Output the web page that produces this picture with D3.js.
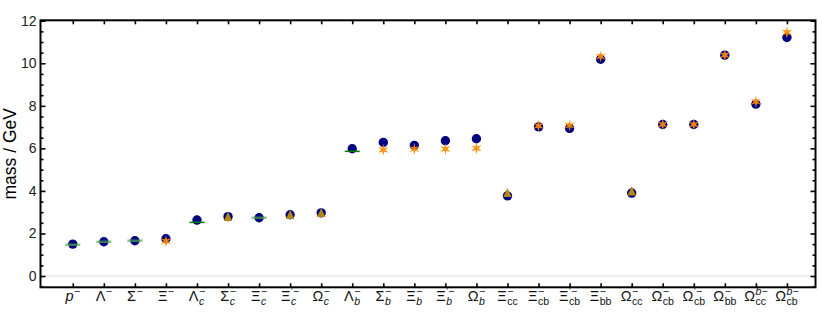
<!DOCTYPE html>
<html>
<head>
<meta charset="utf-8">
<script src="https://cdn.jsdelivr.net/npm/d3@7"></script>
<style>
  body { margin: 0; background: #fff; }
  text { font-family: "Liberation Sans", Arial, sans-serif; }
</style>
</head>
<body>
<div class="root"></div>
<script>
var width = 822,
    height = 332,
    margin = {top: 20.3, right: 6.5, bottom: 44.7, left: 40.5};

// baryon labels: base glyph, superscript, subscript
var labelBase = ["p","Λ","Σ","Ξ","Λ","Σ","Ξ","Ξ","Ω","Λ","Σ","Ξ","Ξ","Ω","Ξ","Ξ","Ξ","Ξ","Ω","Ω","Ω","Ω","Ω","Ω"];
var labelSup  = ["−","−","−","−","−","−","−","′−","−","−","−","−","′−","−","−","−","′−","−","−","−","′−","−","b−","b−"];
var labelSub  = ["","","","","c","c","c","c","c","b","b","b","b","b","cc","cb","cb","bb","cc","cb","cb","bb","cc","cb"];

// masses in GeV
var circleMass = [1.50,1.61,1.66,1.75,2.63,2.79,2.74,2.88,2.97,5.98,6.28,6.14,6.36,6.45,3.77,7.01,6.94,10.19,3.90,7.12,7.12,10.38,8.08,11.21];
var lightLineMass = [1.47,1.61,1.66,null,null,null,2.74,null,null,null,null,null,null,null,null,null,null,null,null,null,null,null,null,null];
var darkLineMass  = [null,null,null,null,2.52,null,null,null,null,5.86,null,null,null,null,null,null,null,null,null,null,null,null,null,null];
var starMass = [null,null,null,1.64,null,null,null,null,null,null,5.93,5.97,5.97,6.00,null,7.06,7.08,10.32,null,7.12,7.12,10.38,8.19,11.45];
var triMass  = [null,null,null,null,null,2.76,null,2.85,2.94,null,null,null,null,null,3.88,null,null,null,3.96,null,null,null,null,null];

var yMajor = [0,2,4,6,8,10,12];

var x = d3.scaleLinear()
    .domain([-1.04, 23.92])
    .range([margin.left, width - margin.right]);

var y = d3.scaleLinear()
    .domain([-0.53, 12.02])
    .range([height - margin.bottom, margin.top]);

var svg = d3.select(".root")
    .append("svg")
    .attr("width", width)
    .attr("height", height);

// zero line
svg.append("line")
    .attr("x1", x.range()[0]).attr("x2", x.range()[1])
    .attr("y1", y(0)).attr("y2", y(0))
    .attr("stroke", "#d9d9d9").attr("stroke-width", 1);

var idx = d3.range(labelBase.length);
var minor = d3.range(-0.5, 12.01, 0.5).filter(function(v) { return v % 2 !== 0; });

function styleAxis(g) {
  g.select(".domain").remove();
  g.selectAll(".tick line").attr("stroke", "#000").attr("stroke-width", 1.6);
}

// y axes, ticks pointing inward
svg.append("g")
    .attr("transform", "translate(" + x.range()[0] + ",0)")
    .call(d3.axisLeft(y).tickValues(yMajor).tickSize(-5).tickPadding(4).tickFormat(d3.format("d")))
    .call(styleAxis)
    .call(function(g) {
      g.selectAll("text").attr("font-size", 14).attr("fill", "#222")
        .style("font-family", "'Liberation Sans', Arial, sans-serif");
    });
svg.append("g")
    .attr("transform", "translate(" + x.range()[0] + ",0)")
    .call(d3.axisLeft(y).tickValues(minor).tickSize(-3).tickFormat(""))
    .call(styleAxis);
svg.append("g")
    .attr("transform", "translate(" + x.range()[1] + ",0)")
    .call(d3.axisRight(y).tickValues(yMajor).tickSize(-5).tickFormat(""))
    .call(styleAxis);
svg.append("g")
    .attr("transform", "translate(" + x.range()[1] + ",0)")
    .call(d3.axisRight(y).tickValues(minor).tickSize(-3).tickFormat(""))
    .call(styleAxis);

// x axes
svg.append("g")
    .attr("transform", "translate(0," + y.range()[0] + ")")
    .call(d3.axisBottom(x).tickValues(idx).tickSize(-4).tickFormat(""))
    .call(styleAxis);
svg.append("g")
    .attr("transform", "translate(0," + y.range()[1] + ")")
    .call(d3.axisTop(x).tickValues(idx).tickSize(-4).tickFormat(""))
    .call(styleAxis);

// frame
svg.append("rect")
    .attr("x", x.range()[0]).attr("y", y.range()[1])
    .attr("width", x.range()[1] - x.range()[0])
    .attr("height", y.range()[0] - y.range()[1])
    .attr("fill", "none").attr("stroke", "#000").attr("stroke-width", 2);

// y label
svg.append("text")
    .attr("transform", "translate(15.5," + ((y.range()[0] + y.range()[1]) / 2) + ") rotate(-90)")
    .attr("text-anchor", "middle")
    .attr("font-size", 17.5)
    .text("mass / GeV");

// x labels with stacked super/subscripts
function addRich(t, str) {
  str.split("").forEach(function(ch) {
    t.append("tspan")
      .attr("font-style", /[a-z]/.test(ch) && str.length === 1 || ch === "b" && str.indexOf("−") >= 0 ? "italic" : null)
      .text(ch);
  });
}
idx.forEach(function(i) {
  var g = svg.append("g").attr("fill", "#111");
  var base = g.append("text").attr("font-size", 14.5)
      .attr("font-style", labelBase[i] === "p" ? "italic" : null)
      .text(labelBase[i]);
  var bw = base.node().getComputedTextLength() + 0.5;
  var sup = g.append("text").attr("x", bw).attr("y", -6.5).attr("font-size", 10.5);
  addRich(sup, labelSup[i]);
  var sub = g.append("text").attr("x", bw).attr("y", 4).attr("font-size", 10.5);
  if (labelSub[i]) addRich(sub, labelSub[i]);
  var w = bw + Math.max(sup.node().getComputedTextLength(), labelSub[i] ? sub.node().getComputedTextLength() : 0);
  g.attr("transform", "translate(" + (x(i) - w / 2) + ",301)");
});

// circles
svg.append("g").selectAll("circle")
    .data(idx)
  .enter().append("circle")
    .attr("cx", function(i) { return x(i); })
    .attr("cy", function(i) { return y(circleMass[i]); })
    .attr("r", 4.7)
    .attr("fill", "#000080");

// experiment lines
function lines(arr, color, sw) {
  svg.append("g").selectAll("line")
      .data(idx.filter(function(i) { return arr[i] != null; }))
    .enter().append("line")
      .attr("x1", function(i) { return x(i) - 7.5; })
      .attr("x2", function(i) { return x(i) + 7.5; })
      .attr("y1", function(i) { return y(arr[i]); })
      .attr("y2", function(i) { return y(arr[i]); })
      .attr("stroke", color)
      .attr("stroke-width", sw);
}
lines(lightLineMass, "rgba(80,170,80,0.7)", 2.5);
lines(darkLineMass, "#007f00", 1.5);

// triangles
svg.append("g").selectAll("path")
    .data(idx.filter(function(i) { return triMass[i] != null; }))
  .enter().append("path")
    .attr("d", "M0,-5.5L4.2,3.6L-4.2,3.6Z")
    .attr("transform", function(i) { return "translate(" + x(i) + "," + y(triMass[i]) + ")"; })
    .attr("fill", "#b5870f");

// six-pointed stars
var starPts = d3.range(12).map(function(k) {
  var a = k * Math.PI / 6, r = k % 2 ? 2.1 : 6;
  return [r * Math.sin(a), -r * Math.cos(a)];
});
var starPath = "M" + starPts.join("L") + "Z";
svg.append("g").selectAll("path")
    .data(idx.filter(function(i) { return starMass[i] != null; }))
  .enter().append("path")
    .attr("d", starPath)
    .attr("transform", function(i) { return "translate(" + x(i) + "," + y(starMass[i]) + ")"; })
    .attr("fill", "#ff8c00")
    .attr("fill-opacity", 0.92);
</script>
</body>
</html>
